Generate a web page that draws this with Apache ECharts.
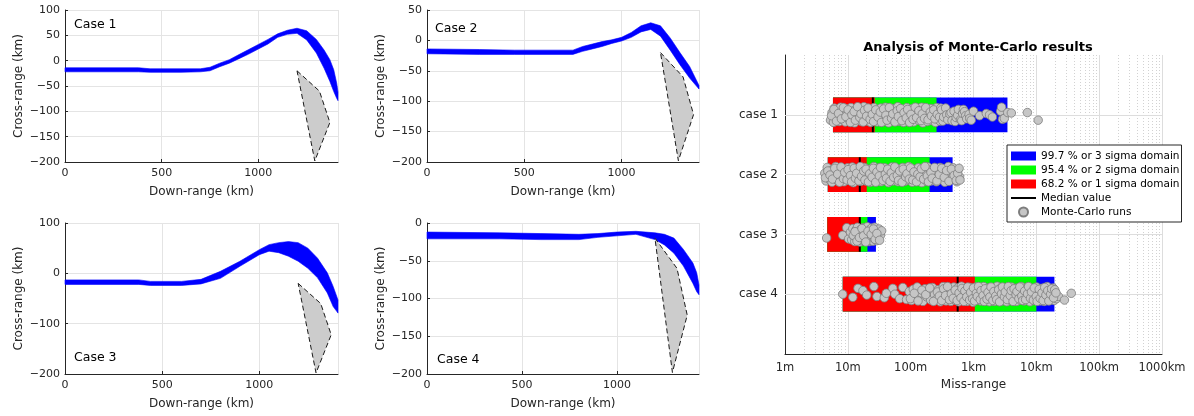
<!DOCTYPE html>
<html>
<head>
<meta charset="utf-8">
<script src="https://cdn.jsdelivr.net/npm/echarts@6/dist/echarts.min.js"></script>
<style>
  html, body { margin: 0; padding: 0; background: #fff; }
  #chart { width: 1194px; height: 416px; }
</style>
</head>
<body>
<div id="chart"></div>
<script>
// trajectory envelopes, down-range (km) vs cross-range (km)
const case1X  = [0, 380, 440, 600, 700, 750, 800, 850, 900, 950, 1000, 1050, 1100, 1150, 1200, 1250, 1300, 1340, 1370, 1390, 1405, 1412]
const case1Hi = [-14, -14, -16, -16, -16, -13, -5, 2, 12, 22, 32, 42, 53, 60, 64, 59, 42, 21, 2, -18, -44, -62]
const case1Lo = [-22, -22, -23, -23, -22, -20, -12, -5, 4, 13, 23, 33, 46, 52, 54, 41, 15, -15, -41, -61, -74, -79]

const case2X  = [0, 270, 450, 750, 800, 850, 900, 950, 1000, 1050, 1100, 1150, 1200, 1250, 1300, 1350, 1398]
const case2Hi = [-14, -15, -16, -16, -10, -6, -2, 1, 5, 13, 24, 29, 24, 4, -20, -43, -74]
const case2Lo = [-22, -23, -23, -23, -18, -14, -10, -5, -1, 5, 14, 18, 7, -16, -40, -62, -80]

const case3X  = [0, 380, 440, 600, 700, 800, 900, 1000, 1050, 1100, 1150, 1200, 1250, 1300, 1350, 1380, 1405]
const case3Hi = [-13, -13, -16, -16, -12, 4, 24, 47, 57, 61, 63, 61, 50, 30, 1, -26, -53]
const case3Lo = [-22, -22, -24, -24, -21, -10, 14, 37, 44, 41, 34, 24, 10, -9, -39, -66, -79]

const case4X  = [0, 380, 600, 800, 900, 1000, 1100, 1200, 1250, 1300, 1350, 1400, 1420, 1432]
const case4Hi = [-12, -13, -14, -15, -14, -12, -11, -13, -15, -20, -35, -53, -66, -82]
const case4Lo = [-21, -21, -22, -22, -19, -17, -15, -22, -29, -40, -57, -80, -91, -95]

// landing zone outline (same in every case)
const zoneX = [1200, 1316, 1370, 1292]
const zoneY = [-20, -60, -122, -198]

const caseXMax = [1412, 1398, 1405, 1432]
const caseYMax = [100, 50, 100, 0]
const caseYStep = [50, 50, 100, 50]

// Monte-Carlo analysis, miss-range in metres
const caseNames = ['case 1', 'case 2', 'case 3', 'case 4']
const domainStart = [5.8, 4.8, 4.7, 8.3]
const sigma1End = [26.8, 20, 16, 1050]
const sigma2End = [258, 200, 20.5, 10000]
const sigma3End = [3470, 465, 28, 19400]
const medianMiss = [25, 15.5, 15.5, 560]
const missTicks = [1, 10, 100, 1e3, 1e4, 1e5, 1e6]
const missTickLabels = ['1m', '10m', '100m', '1km', '10km', '100km', '1000km']

// runs: [miss (m), vertical spread around the case line]
const case1Runs = [
  [5.3,0.12],[5.6,-0.05],[5.9,0.17],[6.1,-0.15],[6.4,0.03],[6.8,-0.10],[7.0,0.08],[7.3,0.15],[7.7,-0.17],[8.0,0.00],
  [8.3,0.10],[8.8,-0.07],[9.1,0.16],[9.5,-0.13],[9.9,0.05],[10.4,-0.02],[10.8,0.13],[11.2,-0.16],[11.9,0.07],[12.3,-0.09],
  [12.8,0.18],[13.5,-0.04],[14.0,0.02],[14.6,-0.14],[15.1,0.11],[15.9,-0.11],[16.5,0.15],[17.2,0.04],[18.0,-0.18],[18.7,0.09],
  [19.5,-0.06],[20.3,0.14],[21.4,-0.12],[22.0,0.01],[23.1,0.17],[24.0,-0.08],[25.2,0.06],[26.1,-0.16],[27.3,0.12],[28.4,-0.03],
  [29.5,0.16],[31.0,-0.10],[32.1,0.04],[33.6,-0.15],[35.0,0.09],[36.2,-0.01],[38.0,0.14],[39.5,-0.17],[41.2,0.07],[43.0,-0.06],
  [44.6,0.18],[46.9,-0.12],[48.5,0.02],[50.8,-0.08],[53.0,0.13],[55.1,-0.14],[57.4,0.10],[60.0,0.05],[62.3,-0.18],[65.2,0.15],
  [67.8,-0.04],[70.5,0.08],[73.9,-0.11],[76.6,0.17],[80.2,-0.02],[83.5,0.11],[86.8,-0.16],[91.0,0.03],[94.2,-0.09],[98.7,0.14],
  [103,-0.13],[107,0.06],[112,0.16],[116,-0.07],[121,0.01],[127,-0.15],[132,0.12],[138,-0.05],[143,0.09],[150,-0.17],
  [156,0.18],[163,-0.10],[170,0.04],[178,-0.12],[185,0.15],[193,-0.03],[201,0.07],[210,-0.14],[219,0.13],[228,-0.08],
  [238,0.00],[248,0.17],[259,-0.16],[270,0.10],[282,-0.06],[294,0.14],
  [5.5,0.02],[6.0,-0.12],[6.6,0.14],[7.1,-0.03],[7.9,0.09],[8.5,-0.16],[9.3,0.04],[10.1,-0.11],[11.0,0.17],[11.6,0.00],
  [12.6,-0.07],[13.2,0.12],[14.3,-0.18],[15.5,0.06],[16.2,-0.02],[17.6,0.16],[18.4,-0.10],[19.9,0.03],[21.0,-0.15],[22.6,0.10],
  [24.5,-0.01],[25.7,0.15],[27.8,-0.11],[30.2,0.05],[32.8,-0.06],[34.3,0.17],[37.1,-0.13],[40.3,0.01],[42.1,0.12],[45.8,-0.16],
  [49.6,0.08],[52.0,-0.02],[56.2,0.16],[61.2,-0.09],[63.7,0.04],[69.1,-0.14],[72.3,0.13],[78.4,-0.05],[85.1,0.07],[89.4,-0.12],
  [96.3,0.17],[101,-0.01],[109,0.10],[118,-0.17],[124,0.06],[135,-0.09],[146,0.13],[153,-0.02],[166,0.08],[174,-0.16],
  [189,0.11],[205,-0.06],[214,0.02],[233,-0.11],[243,0.09],[265,-0.01],[288,0.05],[300,-0.15],
  [310,-0.11],[325,0.14],[335,0.05],[360,-0.15],[375,0.00],[390,0.11],[420,-0.02],[440,-0.05],[455,0.13],[490,-0.08],
  [510,0.15],[530,0.06],[560,0.01],[575,-0.12],[620,0.11],[650,0.13],[670,-0.03],[690,-0.12],[720,-0.07],[750,0.02],
  [780,0.09],[850,-0.01],[870,0.08],[920,0.12],
  [1000,-0.08],[1250,0.02],[1600,-0.03],[1800,0.00],[2000,0.05],[2700,-0.08],[2800,-0.17],[2900,0.10],[3100,0.08],[3500,-0.05],
  [4000,-0.04],[7200,-0.05],[10700,0.12]
]
const case2Runs = [
  [4.3,-0.03],[4.5,0.14],[4.7,-0.16],[4.9,0.06],[5.1,0.11],[5.4,-0.09],[5.6,0.17],[5.9,-0.12],[6.1,0.02],[6.4,-0.18],
  [6.7,0.08],[7.0,0.15],[7.3,-0.06],[7.6,0.12],[8.0,-0.14],[8.3,0.00],[8.7,0.16],[9.1,-0.10],[9.5,0.05],[9.9,-0.15],
  [10.4,0.13],[10.8,-0.04],[11.3,0.09],[11.8,-0.17],[12.3,0.18],[12.9,-0.07],[13.5,0.03],[14.1,-0.13],[14.7,0.10],[15.4,-0.01],
  [16.1,0.15],[16.8,-0.11],[17.5,0.07],[18.3,-0.16],[19.1,0.14],[20.0,-0.05],[20.9,0.01],[21.8,-0.12],[22.8,0.17],[23.8,-0.08],
  [24.9,0.11],[26.0,-0.18],[27.2,0.04],[28.4,0.13],[29.7,-0.14],[31.0,0.09],[32.4,-0.02],[33.8,0.16],[35.4,-0.10],[37.0,0.06],
  [38.6,-0.15],[40.3,0.12],[42.2,-0.06],[44.1,0.18],[46.0,-0.09],[48.1,0.02],[50.3,-0.17],[52.5,0.14],[54.9,-0.03],[57.3,0.08],
  [59.9,-0.13],[62.6,0.16],[65.4,-0.11],[68.4,0.05],[71.5,0.10],[74.7,-0.16],[78.0,0.00],[81.5,0.15],[85.2,-0.07],[89.0,0.12],
  [93.0,-0.18],[97.2,0.07],[102,-0.04],[106,0.17],[111,-0.12],[116,0.03],[121,-0.09],[127,0.13],[132,-0.15],[138,0.11],
  [145,-0.01],[151,0.18],[158,-0.14],[165,0.06],[173,-0.06],[180,0.15],[188,-0.17],[197,0.09],[206,-0.10],[215,0.14],
  [225,-0.02],[235,0.04],[245,-0.13],[256,0.16],[268,-0.08],[280,0.10],[293,-0.16],[306,0.01],[320,0.12],[334,-0.11],
  [349,0.17],[365,-0.05],[381,0.07],[398,-0.18],[416,0.13],[435,-0.03],[455,0.08],[475,-0.15],[500,0.11],[520,-0.07],
  [545,0.16],[575,-0.12],[600,0.05],
  [4.4,0.07],[4.8,-0.08],[5.2,0.01],[5.7,0.10],[6.2,-0.14],[6.9,-0.01],[7.4,0.17],[7.8,-0.17],[8.5,0.09],[8.9,-0.05],
  [9.7,0.12],[10.1,-0.11],[11.0,0.02],[11.5,0.16],[12.6,-0.14],[13.2,0.08],[13.8,-0.03],[15.0,0.14],[15.8,-0.18],[16.5,0.04],
  [17.9,-0.08],[18.7,0.12],[19.5,-0.12],[21.3,0.16],[22.3,-0.02],[24.3,0.06],[25.5,-0.14],[27.8,0.17],[29.0,-0.06],[31.7,0.03],
  [33.1,-0.16],[36.2,0.13],[39.5,-0.01],[41.2,0.08],[43.1,-0.12],[47.0,0.15],[49.2,-0.04],[53.7,0.06],[56.1,-0.17],[61.2,0.02],
  [64.0,0.13],[66.9,-0.08],[73.1,0.17],[76.3,-0.12],[83.3,0.05],[87.1,-0.02],[95.1,0.10],[99.5,-0.15],[108,0.12],[113,-0.06],
  [124,0.16],[130,-0.01],[141,0.05],[148,-0.13],[161,0.10],[169,-0.18],[184,0.03],[192,0.16],[210,-0.05],[220,0.08],
  [240,-0.16],[262,0.14],[286,0.00],[313,-0.14],[342,0.06],[373,-0.09],[407,0.15],[445,-0.12],[490,0.02],[530,0.13],
  [560,-0.03],[590,-0.14],[610,0.12]
]
const case3Runs = [
  [4.6,0.08],[8.3,0.02],[9.6,-0.15],[10.3,0.10],
  [11.0,-0.05],[11.5,0.12],[12.0,-0.13],[12.4,0.04],[12.9,0.16],[13.3,-0.09],[13.8,0.08],[14.2,-0.16],[14.5,0.01],[14.7,0.13],
  [15.1,-0.06],[15.6,0.17],[16.0,-0.11],[16.3,0.05],[16.5,-0.02],[17.0,0.14],[17.5,-0.15],[18.0,0.09],[18.5,-0.07],[18.8,0.15],
  [19.0,0.02],[19.6,-0.12],[20.1,0.11],[20.4,-0.17],[20.7,0.06],[21.3,-0.04],[21.9,0.16],[22.2,-0.10],[22.5,0.03],[23.1,0.13],
  [23.8,-0.14],[24.1,0.07],[24.5,-0.03],[25.2,0.15],[26.0,-0.09],[26.4,0.10],[26.8,-0.16],[27.6,0.04],[28.5,0.14],[29.5,-0.07],
  [30.5,0.09],[31.5,-0.12],[33.0,0.02],[34.5,-0.08],
  [12.2,0.02],[13.0,-0.06],[14.0,0.15],[15.3,0.07],[16.8,-0.13],[17.8,0.03],[19.3,0.17],[20.9,-0.07],[23.5,0.00],[25.6,-0.12],
  [27.2,0.11],[29.0,-0.02],[32.0,0.13]
]
const case4Runs = [
  [8.3,0.00],[12,0.07],[14.5,-0.13],[17.4,-0.08],[20,0.02],[26,-0.17],[29,0.05],[38,0.08],[41,-0.02],[52,-0.13],
  [56,0.00],[67,0.10],[75,-0.15],[86,0.12],
  [95,-0.06],[103,0.14],[110,-0.11],[118,0.03],[127,-0.16],[136,0.09],[146,-0.03],[157,0.16],[168,-0.12],[180,0.06],
  [194,-0.08],[208,0.13],[223,-0.15],[239,0.01],[257,0.11],[276,-0.10],[296,0.17],[307,-0.04],[318,0.07],[329,-0.17],
  [341,0.12],[353,-0.07],[366,0.15],[379,0.00],[393,-0.13],[407,0.09],[421,-0.05],[436,0.16],[452,-0.11],[468,0.04],
  [485,-0.16],[503,0.13],[521,-0.02],[539,0.08],[559,-0.14],[579,0.17],[600,-0.09],[621,0.05],[643,-0.18],[667,0.11],
  [691,-0.04],[716,0.14],[741,-0.12],[768,0.02],[796,0.16],[824,-0.07],[854,0.09],[885,-0.15],[917,0.12],[950,-0.01],
  [984,0.18],[1020,-0.10],[1060,0.06],[1090,-0.16],[1130,0.13],[1170,-0.05],[1220,0.08],[1260,-0.13],[1300,0.15],[1350,-0.03],
  [1400,0.10],[1450,-0.17],[1500,0.04],[1560,0.14],[1610,-0.09],[1670,0.07],[1730,-0.14],[1790,0.17],[1860,-0.06],[1930,0.11],
  [2000,-0.12],[2070,0.02],[2140,0.16],[2220,-0.08],[2300,0.09],[2380,-0.18],[2470,0.13],[2560,-0.02],[2650,0.06],[2740,-0.15],
  [2840,0.15],[2940,-0.07],[3050,0.10],[3160,-0.11],[3270,0.03],[3390,0.17],[3510,-0.13],[3640,0.08],[3770,-0.04],[3910,0.14],
  [4050,-0.16],[4190,0.05],[4340,-0.09],[4500,0.12],[4660,-0.01],[4830,0.16],[5000,-0.14],[5180,0.07],[5370,-0.06],[5560,0.13],
  [5760,-0.17],[5970,0.10],[6180,-0.03],[6400,0.15],[6640,-0.10],[6870,0.04],[7120,-0.15],[7380,0.11],[7640,-0.05],[7920,0.17],
  [8200,-0.12],[8500,0.06],[8800,-0.08],[9120,0.14],[9450,-0.02],[9790,0.09],[10100,-0.16],[10500,0.12],[10900,-0.07],[11300,0.03],
  [11700,0.15],[12100,-0.13],[12500,0.08],[13000,-0.04],[13400,0.16],[13900,-0.11],[14400,0.05],[14900,-0.17],[15500,0.11],[16000,-0.02],
  [16600,0.13],[17200,-0.09],[17800,0.07],[18500,-0.14],[19200,0.14],[20000,-0.05],[21000,0.10],[22500,0.05],[28000,0.13],[36000,-0.02],
  [99,0.10],[114,-0.02],[131,0.15],[151,-0.09],[174,0.01],[201,-0.14],[231,0.16],[266,-0.05],[286,0.04],[312,0.14],
  [335,-0.12],[359,0.03],[386,-0.17],[414,0.12],[444,-0.01],[476,0.09],[512,-0.09],[549,0.14],[589,-0.03],[632,0.08],
  [655,-0.13],[703,0.16],[728,-0.07],[781,0.06],[810,-0.16],[869,0.13],[901,-0.04],[967,0.10],[1000,-0.14],[1040,0.15],
  [1110,-0.02],[1150,0.05],[1200,-0.17],[1280,0.12],[1320,-0.08],[1420,0.03],[1480,0.16],[1530,-0.12],[1640,0.11],[1700,-0.04],
  [1820,0.06],[1900,-0.16],[2030,0.14],[2110,-0.06],[2260,0.04],[2340,0.12],[2510,-0.10],[2600,0.17],[2790,-0.01],[2890,-0.16],
  [3100,0.06],[3210,-0.05],[3450,0.12],[3580,-0.17],[3840,0.03],[3980,-0.08],[4260,0.16],[4420,-0.12],[4750,0.01],[4910,-0.06],
  [5270,0.10],[5460,-0.16],[5870,0.04],[6070,0.14],[6520,-0.07],[6750,0.12],[7250,-0.01],[7510,-0.17],[8060,0.09],[8350,-0.05],
  [8960,0.13],[9280,-0.14],[9960,0.05],[10300,0.16],[11100,-0.11],[11500,0.09],[12300,-0.03],[12800,0.14],[13600,-0.15],[14200,0.02],
  [15200,-0.08],[15800,0.15],[16900,0.00],[17500,-0.12],[18800,0.08],[19600,-0.10],[20500,-0.03]
]

const FONT = 'DejaVu Sans'
const TXT = '#262626'
const BAR_HALF = 0.29
const JITTER_SCALE = 0.75

const chart = echarts.init(document.getElementById('chart'), null, { renderer: 'canvas' })

const bands = [
  [case1X, case1Hi, case1Lo],
  [case2X, case2Hi, case2Lo],
  [case3X, case3Hi, case3Lo],
  [case4X, case4Hi, case4Lo]
]
const allRuns = [case1Runs, case2Runs, case3Runs, case4Runs]

const grids = [
  { left: 65, top: 10, width: 273, height: 152 },
  { left: 427, top: 10, width: 272, height: 152 },
  { left: 65, top: 223, width: 273, height: 151 },
  { left: 427, top: 223, width: 272, height: 151 },
  { left: 785, top: 55, width: 377, height: 299 }
]

const xAxes = []
const yAxes = []
const series = []

for (let i = 0; i < 4; i++) {
  xAxes.push({
    gridIndex: i, type: 'value', min: 0, max: caseXMax[i], interval: 500,
    name: 'Down-range (km)', nameLocation: 'middle', nameGap: 24,
    nameTextStyle: { fontFamily: FONT, fontSize: 12, color: TXT },
    axisLine: { onZero: false, lineStyle: { color: TXT } },
    axisTick: { inside: true, length: 3, lineStyle: { color: TXT } },
    axisLabel: { fontFamily: FONT, fontSize: 11, color: TXT, margin: 6, showMaxLabel: false,
      formatter: v => String(v) },
    splitLine: { lineStyle: { color: '#e4e4e4' } }
  })
  yAxes.push({
    gridIndex: i, type: 'value', min: -200, max: caseYMax[i], interval: caseYStep[i],
    name: 'Cross-range (km)', nameLocation: 'middle', nameGap: 40,
    nameTextStyle: { fontFamily: FONT, fontSize: 12, color: TXT },
    axisLine: { show: true, onZero: false, lineStyle: { color: TXT } },
    axisTick: { show: true, inside: true, length: 3, lineStyle: { color: TXT } },
    axisLabel: { fontFamily: FONT, fontSize: 11, color: TXT, margin: 5,
      formatter: v => String(v).replace('-', '\u2212') },
    splitLine: { lineStyle: { color: '#e4e4e4' } }
  })

  const [xs, hi, lo] = bands[i]
  const bandPts = xs.map((x, j) => [x, hi[j]]).concat(xs.map((x, j) => [x, lo[j]]).reverse())
  series.push({
    type: 'custom', xAxisIndex: i, yAxisIndex: i, z: 3, silent: true,
    data: bandPts,
    renderItem: (params, api) => {
      if (params.dataIndex !== 0) return null
      return {
        type: 'polygon',
        shape: { points: bandPts.map(p => api.coord(p)) },
        style: { fill: '#0000ff', stroke: '#0000ff', lineWidth: 0.6 }
      }
    }
  })

  const zonePts = zoneX.map((x, j) => [x, zoneY[j]])
  series.push({
    type: 'custom', xAxisIndex: i, yAxisIndex: i, z: 4, silent: true,
    data: zonePts,
    renderItem: (params, api) => {
      if (params.dataIndex !== 0) return null
      return {
        type: 'polygon',
        shape: { points: zonePts.map(p => api.coord(p)) },
        style: { fill: '#cccccc', stroke: '#1a1a1a', lineWidth: 1, lineDash: [5, 3] }
      }
    }
  })
}

// right panel axes
xAxes.push({
  gridIndex: 4, type: 'log', logBase: 10, min: 1, max: 1e6,
  name: 'Miss-range', nameLocation: 'middle', nameGap: 25,
  nameTextStyle: { fontFamily: FONT, fontSize: 12, color: TXT },
  axisLine: { onZero: false, lineStyle: { color: TXT } },
  axisTick: { inside: true, length: 4, lineStyle: { color: TXT } },
  axisLabel: { fontFamily: FONT, fontSize: 11.5, color: TXT, margin: 8,
    formatter: v => missTickLabels[Math.round(Math.log10(v))] },
  splitLine: { show: false }
})
yAxes.push({
  gridIndex: 4, type: 'value', min: 0, max: 5, interval: 1, inverse: true,
  axisLine: { show: true, onZero: false, lineStyle: { color: TXT } },
  axisTick: { show: false },
  axisLabel: { fontFamily: FONT, fontSize: 12, color: TXT, margin: 7,
    formatter: v => (v >= 1 && v <= 4) ? caseNames[v - 1] : '' },
  splitLine: { show: false }
})

// grid lines of the log panel
const minorMiss = []
for (let e = 0; e < 6; e++) for (let m = 2; m <= 9; m++) minorMiss.push(m * Math.pow(10, e))
series.push({
  type: 'line', xAxisIndex: 4, yAxisIndex: 4, z: 1, data: [], silent: true,
  markLine: {
    silent: true, z: 1, symbol: ['none', 'none'], label: { show: false },
    data: missTicks.slice(1).map(v => ({ xAxis: v, lineStyle: { color: '#dddddd', type: 'solid', width: 1 } }))
      .concat(minorMiss.map(v => ({ xAxis: v, lineStyle: { color: '#d2d2d2', type: [1, 2], width: 1 } })))
      .concat([1, 2, 3, 4].map(c => ({ yAxis: c, lineStyle: { color: '#dddddd', type: 'solid', width: 1 } })))
  }
})

function domainSeries(name, color, ends) {
  return {
    type: 'custom', name, xAxisIndex: 4, yAxisIndex: 4, z: 6,
    itemStyle: { color },
    data: caseNames.map((_, k) => [domainStart[k], ends[k], k + 1]),
    encode: { x: [0, 1], y: 2 },
    renderItem: (params, api) => {
      const a = api.coord([api.value(0), api.value(2) - BAR_HALF])
      const b = api.coord([api.value(1), api.value(2) + BAR_HALF])
      return {
        type: 'rect',
        shape: { x: Math.min(a[0], b[0]), y: Math.min(a[1], b[1]), width: Math.abs(b[0] - a[0]), height: Math.abs(b[1] - a[1]) },
        style: { fill: color }
      }
    }
  }
}
series.push(domainSeries('99.7 % or 3 sigma domain', '#0000ff', sigma3End))
series.push(domainSeries('95.4 % or 2 sigma domain', '#00ff00', sigma2End))
series.push(domainSeries('68.2 % or 1 sigma domain', '#ff0000', sigma1End))

series.push({
  type: 'custom', name: 'Median value', xAxisIndex: 4, yAxisIndex: 4, z: 7,
  itemStyle: { color: '#000' },
  data: medianMiss.map((m, k) => [m, k + 1]),
  renderItem: (params, api) => {
    const a = api.coord([api.value(0), api.value(1) - BAR_HALF])
    const b = api.coord([api.value(0), api.value(1) + BAR_HALF])
    return { type: 'line', shape: { x1: a[0], y1: a[1], x2: b[0], y2: b[1] }, style: { stroke: '#000', lineWidth: 2 } }
  }
})

const runPoints = []
allRuns.forEach((runs, k) => runs.forEach(r => runPoints.push([r[0], k + 1 + r[1] * JITTER_SCALE])))
series.push({
  type: 'scatter', name: 'Monte-Carlo runs', xAxisIndex: 4, yAxisIndex: 4, z: 8,
  symbol: 'circle', symbolSize: 8.5,
  itemStyle: { color: '#c6c6c6', borderColor: '#7d7d7d', borderWidth: 0.8, opacity: 1 },
  data: runPoints
})

chart.setOption({
  animation: false,
  textStyle: { fontFamily: FONT },
  title: {
    text: 'Analysis of Monte-Carlo results', left: 973, top: 36, textAlign: 'center',
    textStyle: { fontFamily: FONT, fontSize: 13, fontWeight: 'bold', color: '#000' }
  },
  legend: {
    z: 20, left: 1007, top: 145, orient: 'vertical', selectedMode: false,
    itemWidth: 25, itemHeight: 9, itemGap: 0,
    padding: [4, 2, 3, 4],
    borderColor: TXT, borderWidth: 1, backgroundColor: '#fff',
    textStyle: { fontFamily: FONT, fontSize: 10.5, color: '#000', lineHeight: 14 },
    data: [
      { name: '99.7 % or 3 sigma domain', icon: 'rect' },
      { name: '95.4 % or 2 sigma domain', icon: 'rect' },
      { name: '68.2 % or 1 sigma domain', icon: 'rect' },
      { name: 'Median value', icon: 'path://M0,0H25V2H0Z' },
      { name: 'Monte-Carlo runs', icon: 'circle' }
    ]
  },
  graphic: [
    { type: 'text', left: 74, top: 18, style: { text: 'Case 1', font: '12.5px "DejaVu Sans"', fill: '#000' } },
    { type: 'text', left: 435, top: 22, style: { text: 'Case 2', font: '12.5px "DejaVu Sans"', fill: '#000' } },
    { type: 'text', left: 74, top: 351, style: { text: 'Case 3', font: '12.5px "DejaVu Sans"', fill: '#000' } },
    { type: 'text', left: 437, top: 353, style: { text: 'Case 4', font: '12.5px "DejaVu Sans"', fill: '#000' } }
  ],
  grid: grids,
  xAxis: xAxes,
  yAxis: yAxes,
  series
})

window.addEventListener('resize', () => chart.resize())
</script>
</body>
</html>
